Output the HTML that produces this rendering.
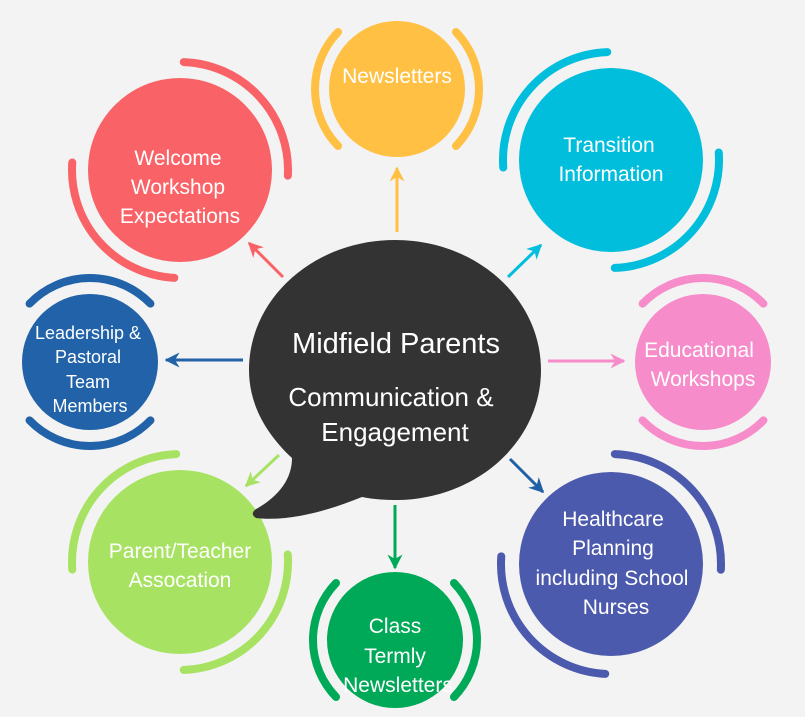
<!DOCTYPE html>
<html><head><meta charset="utf-8"><style>
html,body{margin:0;padding:0;background:#f3f3f3;}
svg{display:block}
text{font-family:"Liberation Sans",sans-serif;fill:#fff;text-anchor:middle;}
</style></head><body>
<svg id="s" width="805" height="717" viewBox="0 0 805 717" xmlns="http://www.w3.org/2000/svg">
<defs>
<marker id="m" viewBox="0 0 10 10" refX="9" refY="5" markerWidth="5" markerHeight="5" orient="auto-start-reverse"><path d="M0,0 L10,5 L0,10 L3,5 Z" fill="context-stroke"/></marker>
</defs>
<rect width="805" height="717" fill="#f3f3f3"/>
<g id="arcs" fill="none" stroke-width="8" stroke-linecap="round"></g>
<circle cx="397" cy="89" r="68" fill="#ffc043"/>
<circle cx="180" cy="170" r="92" fill="#f96266"/>
<circle cx="611" cy="160" r="92" fill="#00bedc"/>
<circle cx="703" cy="362" r="68" fill="#f78ccb"/>
<circle cx="90" cy="362" r="68" fill="#2162a8"/>
<circle cx="180" cy="562" r="92" fill="#a7e262"/>
<circle cx="395" cy="640" r="68" fill="#00a957"/>
<circle cx="611" cy="564" r="92" fill="#4c5aad"/>
<path d="M292,458 C262,430 249,400 249,370 C249,298 314,240 395,240 C476,240 541,298 541,370 C541,442 476,500 395,500 C383,500 372,499 362,497 C330,510 290,522 256,518 C251,515 252,511 258,508 C280,495 292,478 292,458 Z" fill="#333"/>
<g fill="none" stroke-width="3">
<line x1="397" y1="232" x2="397" y2="168" stroke="#ffc043" marker-end="url(#m)"/>
<line x1="283" y1="277" x2="249" y2="243" stroke="#f96266" marker-end="url(#m)"/>
<line x1="508" y1="277" x2="541" y2="245" stroke="#00bedc" marker-end="url(#m)"/>
<line x1="243" y1="360" x2="166" y2="360" stroke="#2162a8" marker-end="url(#m)"/>
<line x1="548" y1="361" x2="624" y2="361" stroke="#f78ccb" marker-end="url(#m)"/>
<line x1="279" y1="455" x2="246" y2="486" stroke="#a7e262" marker-end="url(#m)"/>
<line x1="395" y1="505" x2="395" y2="568" stroke="#00a957" marker-end="url(#m)"/>
<line x1="510" y1="459" x2="543" y2="492" stroke="#1f5fa5" marker-end="url(#m)"/>
</g>
<g font-size="21">
<text x="397" y="83">Newsletters</text>
<text x="178" y="165">Welcome</text>
<text x="178" y="194">Workshop</text>
<text x="180" y="223">Expectations</text>
<text x="609" y="152">Transition</text>
<text x="611" y="181">Information</text>
<text x="699" y="357">Educational</text>
<text x="703" y="386">Workshops</text>
<text x="180" y="558">Parent/Teacher</text>
<text x="180" y="587">Assocation</text>
<text x="395" y="633">Class</text>
<text x="395" y="663">Termly</text>
<text x="398" y="692">Newsletters</text>
<text x="613" y="526">Healthcare</text>
<text x="613" y="555">Planning</text>
<text x="612" y="585">including School</text>
<text x="616" y="614">Nurses</text>
</g>
<g font-size="18">
<text x="88" y="339">Leadership &amp;</text>
<text x="88" y="363">Pastoral</text>
<text x="88" y="388">Team</text>
<text x="90" y="412">Members</text>
</g>
<text x="396" y="353" font-size="29">Midfield Parents</text>
<text x="391" y="406" font-size="26">Communication &amp;</text>
<text x="395" y="441" font-size="26">Engagement</text>
</svg>
<script>
var g=document.getElementById('arcs');
function arc(cx,cy,r,a1,a2,col){var t=Math.PI/180;
var x1=cx+r*Math.cos(a1*t),y1=cy+r*Math.sin(a1*t),x2=cx+r*Math.cos(a2*t),y2=cy+r*Math.sin(a2*t);
var p=document.createElementNS('http://www.w3.org/2000/svg','path');
p.setAttribute('d','M'+x1+','+y1+' A'+r+','+r+' 0 '+((a2-a1)>180?1:0)+' 1 '+x2+','+y2);
p.setAttribute('stroke',col);g.appendChild(p);}
arc(397,89,82,136,224,'#ffc043');arc(397,89,82,-44,44,'#ffc043');
arc(180,170,108,-88,3,'#f96266');arc(180,170,108,93,184,'#f96266');
arc(611,160,108,176,268,'#00bedc');arc(611,160,108,-4,88,'#00bedc');
arc(703,362,84,-136,-44,'#f78ccb');arc(703,362,84,44,136,'#f78ccb');
arc(90,362,84,-136,-44,'#2162a8');arc(90,362,84,44,136,'#2162a8');
arc(180,562,108,176,268,'#a7e262');arc(180,562,108,-4,88,'#a7e262');
arc(395,640,82,136,224,'#00a957');arc(395,640,82,-44,44,'#00a957');
arc(611,564,110,-88,3,'#4c5aad');arc(611,564,110,93,184,'#4c5aad');
</script>
</body></html>
